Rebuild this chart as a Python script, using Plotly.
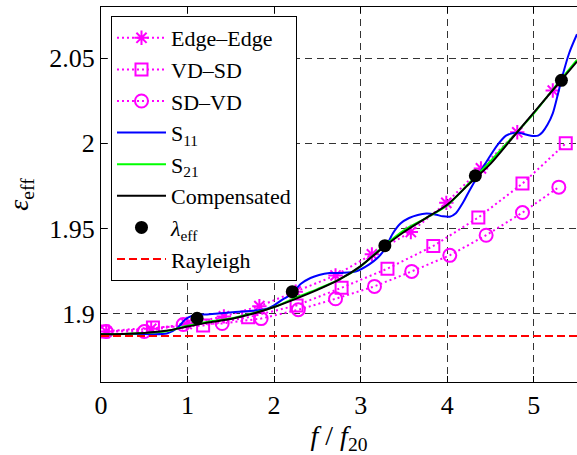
import plotly.graph_objects as go

# ---- data ----
edge_x = [0.06, 0.58, 0.99, 1.42, 1.83, 2.25, 2.71, 3.13, 3.58, 3.99, 4.39, 4.81, 5.22]
edge_y = [1.8896, 1.8912, 1.8940, 1.8985, 1.9045, 1.9130, 1.9225, 1.9349, 1.9480, 1.9651, 1.9853, 2.0065, 2.0310]

vdsd_x = [0.02, 0.60, 1.18, 1.70, 2.26, 2.78, 3.31, 3.84, 4.36, 4.87, 5.37]
vdsd_y = [1.8896, 1.8920, 1.8931, 1.8980, 1.9049, 1.9153, 1.9265, 1.9398, 1.9565, 1.9764, 2.0000]

sdvd_x = [0.06, 0.50, 0.95, 1.40, 1.85, 2.28, 2.71, 3.16, 3.59, 4.03, 4.45, 4.87, 5.29]
sdvd_y = [1.8896, 1.8896, 1.8937, 1.8943, 1.8972, 1.9024, 1.9088, 1.9161, 1.9249, 1.9343, 1.9461, 1.9594, 1.9743]

s11_x = [0, 0.4, 0.76, 0.88, 0.97, 1.05, 1.25, 1.52, 1.75, 1.91, 2.0, 2.1, 2.2, 2.31,
         2.42, 2.52, 2.64, 2.79, 2.95, 3.10, 3.20, 3.28, 3.37, 3.46, 3.56, 3.66, 3.76,
         3.86, 3.95, 4.03, 4.10, 4.18, 4.26, 4.38, 4.49, 4.58, 4.68, 4.76, 4.83, 4.92,
         4.99, 5.05, 5.10, 5.16, 5.22, 5.28, 5.33, 5.41, 5.5]
s11_y = [1.8882, 1.8882, 1.8884, 1.8915, 1.8965, 1.8988, 1.8998, 1.9009, 1.9018, 1.9029,
         1.9050, 1.9085, 1.9115, 1.9176, 1.9210, 1.9228, 1.9239, 1.9240, 1.9250, 1.9290,
         1.9330, 1.9380, 1.9470, 1.9530, 1.9562, 1.9580, 1.9588, 1.9583, 1.9572, 1.9570,
         1.9590, 1.9650, 1.9725, 1.9830, 1.9921, 1.9990, 2.0045, 2.0060, 2.0062, 2.0050,
         2.0043, 2.0045, 2.0065, 2.0110, 2.0176, 2.0290, 2.0392, 2.0530, 2.0640]

f_grid = [0, 0.25, 0.5, 0.75, 1.0, 1.25, 1.5, 1.75, 2.0, 2.25, 2.5, 2.75, 3.0, 3.25,
          3.5, 3.75, 4.0, 4.25, 4.5, 4.75, 5.0, 5.25, 5.5]
s21_y = [1.8880, 1.8882, 1.8888, 1.8898, 1.8930, 1.8955, 1.8972, 1.9003, 1.9040, 1.9095,
         1.9145, 1.9200, 1.9278, 1.9390, 1.9490, 1.9560, 1.9635, 1.9765, 1.9895, 2.0035,
         2.0175, 2.0335, 2.0490]
comp_y = [1.8880, 1.8882, 1.8888, 1.8900, 1.8925, 1.8950, 1.8970, 1.9000, 1.9040, 1.9088,
          1.9140, 1.9200, 1.9280, 1.9385, 1.9480, 1.9560, 1.9640, 1.9760, 1.9880, 2.0030,
          2.0180, 2.0330, 2.0480]

lam_x = [1.11, 2.21, 3.28, 4.325, 5.32]
lam_y = [1.8974, 1.9130, 1.9400, 1.9810, 2.0370]

rayleigh_x = [0, 5.5]
rayleigh_y = [1.887, 1.887]

y_ticks = [1.9, 1.95, 2.0, 2.05]
y_labels = ["1.9", "1.95", "2", "2.05"]
x_ticks = [0, 1, 2, 3, 4, 5]

MAG = "#FF00FF"
FONT = "Liberation Serif, Times New Roman, serif"
fig = go.Figure()
fig.add_trace(go.Scatter(x=edge_x, y=edge_y, mode="lines+markers", name="Edge–Edge",
                         line=dict(color=MAG, width=2, dash="2px,3px"),
                         marker=dict(symbol="asterisk-open", size=12, line=dict(color=MAG, width=2))))
fig.add_trace(go.Scatter(x=vdsd_x, y=vdsd_y, mode="lines+markers", name="VD–SD",
                         line=dict(color=MAG, width=2, dash="2px,3px"),
                         marker=dict(symbol="square-open", size=12, color=MAG, line=dict(color=MAG, width=2))))
fig.add_trace(go.Scatter(x=sdvd_x, y=sdvd_y, mode="lines+markers", name="SD–VD",
                         line=dict(color=MAG, width=2, dash="2px,3px"),
                         marker=dict(symbol="circle-open", size=13, color=MAG, line=dict(color=MAG, width=2))))
fig.add_trace(go.Scatter(x=s11_x, y=s11_y, mode="lines", name="S<sub>11</sub>",
                         line=dict(color="#0000FF", width=2, shape="spline", smoothing=0.8)))
fig.add_trace(go.Scatter(x=f_grid, y=s21_y, mode="lines", name="S<sub>21</sub>",
                         line=dict(color="#00FF00", width=2, shape="spline", smoothing=0.8)))
fig.add_trace(go.Scatter(x=f_grid, y=comp_y, mode="lines", name="Compensated",
                         line=dict(color="black", width=2, shape="spline", smoothing=0.8)))
fig.add_trace(go.Scatter(x=lam_x, y=lam_y, mode="markers", name="<i>λ</i><sub>eff</sub>",
                         marker=dict(symbol="circle", size=13, color="black")))
fig.add_trace(go.Scatter(x=rayleigh_x, y=rayleigh_y, mode="lines", name="Rayleigh",
                         line=dict(color="#FF0000", width=2, dash="8px,4px")))

fig.update_layout(
    width=577, height=455,
    margin=dict(l=101, r=0, t=7, b=73),
    plot_bgcolor="white", paper_bgcolor="white",
    font=dict(family=FONT, size=26, color="black"),
    legend=dict(x=0.021, y=0.976, xanchor="left", yanchor="top", bgcolor="white",
                bordercolor="black", borderwidth=1, font=dict(family=FONT, size=22),
                itemwidth=49, tracegroupgap=0),
)
fig.update_xaxes(range=[0, 5.5], tickvals=x_ticks, ticks="inside", ticklen=6, tickcolor="black",
                 showline=True, linecolor="black", linewidth=1, mirror="ticks",
                 showgrid=True, gridcolor="#333333", gridwidth=1, griddash="7px,5px",
                 zeroline=False, tickfont=dict(family=FONT, size=26),
                 title=dict(text="<i>f</i> / <i>f</i><sub>20</sub>", standoff=2,
                            font=dict(family=FONT, size=28)))
fig.update_yaxes(range=[1.86, 2.08], tickvals=y_ticks, ticktext=y_labels, ticks="inside",
                 ticklen=6, tickcolor="black", showline=True, linecolor="black", linewidth=1,
                 mirror=False, showgrid=True, gridcolor="#333333", gridwidth=1,
                 griddash="7px,5px", zeroline=False, tickfont=dict(family=FONT, size=26),
                 title=dict(text="<i>ε</i><sub>eff</sub>", standoff=12,
                            font=dict(family=FONT, size=28)))

fig.write_html("out.html")
